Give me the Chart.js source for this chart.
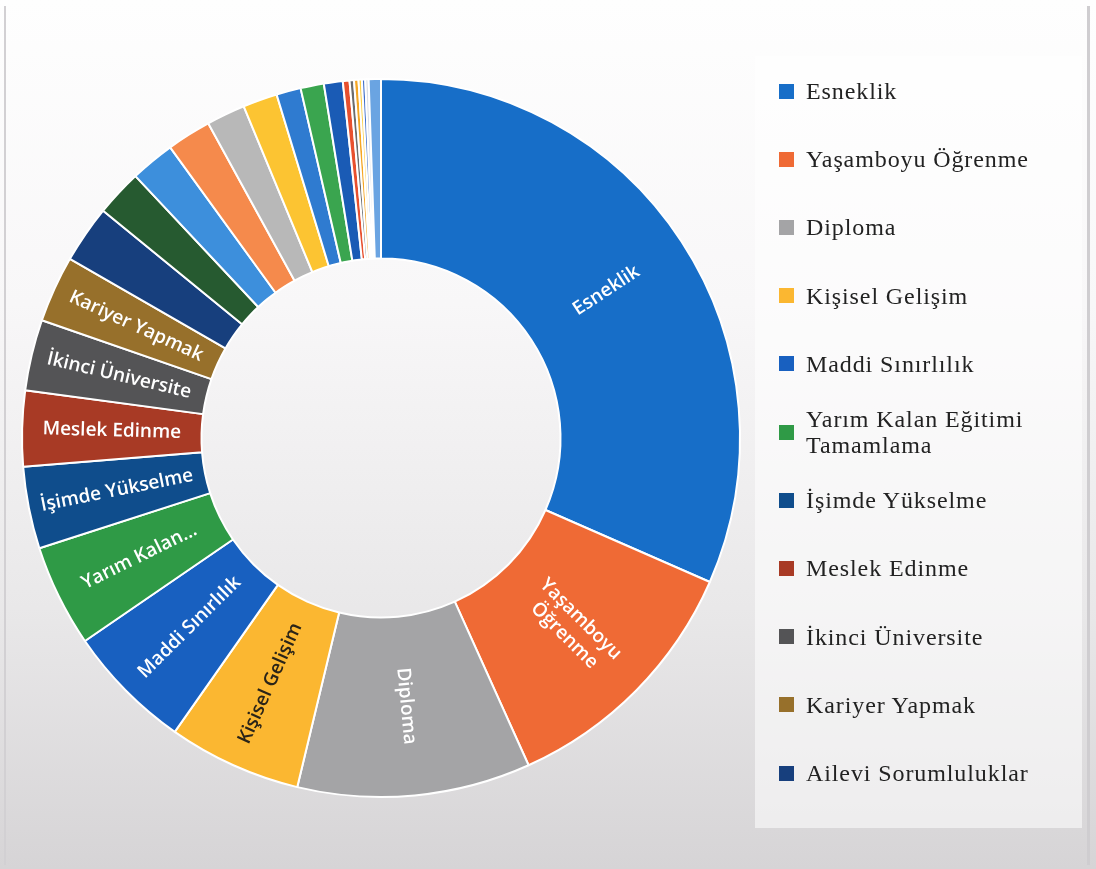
<!DOCTYPE html>
<html lang="tr">
<head>
<meta charset="utf-8">
<title>Neden Açıköğretim</title>
<script src="https://cdn.jsdelivr.net/npm/chart.js"></script>
<style>
  html, body { margin: 0; padding: 0; }
  body {
    width: 1096px; height: 869px; overflow: hidden; position: relative;
    background: linear-gradient(to bottom, #fefefe 0%, #f8f7f8 35%, #e9e8e9 70%, #d6d4d6 100%);
  }
  #frame {
    position: absolute; left: 4px; top: 6px; right: 6px; bottom: 4px;
    border-left: 2px solid #d2d0d3; border-right: 3px solid #cfcdd0;
  }
  #chartBox { position: absolute; left: 0; top: 0; }
  #legend {
    position: absolute; left: 755px; top: 56px; width: 327px; height: 772px;
    background: rgba(255, 255, 255, 0.55);
    font-family: "Liberation Serif", "DejaVu Serif", serif;
    font-size: 24px; letter-spacing: 0.9px; color: #222222;
  }
  .item { position: absolute; left: 24px; display: flex; align-items: center; transform: translateY(-50%); }
  .sw { width: 15px; height: 15px; margin-right: 12px; flex: none; }
  .txt { line-height: 26px; }
</style>
</head>
<body>
<div id="frame"></div>
<div id="chartBox"><canvas id="myChart" width="1096" height="869"></canvas></div>
<div id="legend"></div>
<script>
// categories (only the first 11 appear in the legend of the original)
const labels = [
  "Esneklik", "Yaşamboyu Öğrenme", "Diploma", "Kişisel Gelişim", "Maddi Sınırlılık",
  "Yarım Kalan Eğitimi Tamamlama", "İşimde Yükselme", "Meslek Edinme", "İkinci Üniversite",
  "Kariyer Yapmak", "Ailevi Sorumluluklar",
  "Diğer 12", "Diğer 13", "Diğer 14", "Diğer 15", "Diğer 16", "Diğer 17", "Diğer 18",
  "Diğer 19", "Diğer 20", "Diğer 21", "Diğer 22", "Diğer 23", "Diğer 24", "Diğer 25", "Diğer 26"
];

// share of answers (%)
const values = [
  31.6, 11.7, 10.5, 6.0, 5.7, 4.6, 3.7, 3.4, 3.2, 3.0, 2.6,
  2.1, 2.0, 2.0, 1.75, 1.55, 1.1, 1.05, 0.85,
  0.3, 0.2, 0.2, 0.15, 0.15, 0.15, 0.55
];

// text written inside the larger slices
const sliceText = [
  "Esneklik", "Yaşamboyu\nÖğrenme", "Diploma", "Kişisel Gelişim", "Maddi Sınırlılık",
  "Yarım Kalan...", "İşimde Yükselme", "Meslek Edinme", "İkinci Üniversite", "Kariyer Yapmak"
];

const colors = [
  "#176ec8", "#ef6a35", "#a4a4a6", "#fbb731", "#1860c0", "#2f9a46", "#0f4d8c",
  "#a83a25", "#545456", "#97702b", "#173f7d", "#265a30", "#3d8fdc", "#f58a4c",
  "#b8b8b8", "#fcc432", "#2f7bd0", "#3aa54f", "#1a5bb5", "#e8502e", "#6c6c6c",
  "#f5a623", "#fbd04a", "#3f6fc9", "#d8dde6", "#6aa4e2"
];

const legendCount = 11;

// draws the rotated category names inside the slices
const sliceLabels = {
  id: "sliceLabels",
  afterDatasetsDraw(chart) {
    const ctx = chart.ctx;
    const meta = chart.getDatasetMeta(0);
    ctx.save();
    ctx.font = "600 19px 'Open Sans', sans-serif";
    ctx.textAlign = "center";
    ctx.textBaseline = "middle";
    meta.data.forEach((arc, i) => {
      if (i >= sliceText.length) return;
      const p = arc.getProps(["x", "y", "startAngle", "endAngle", "innerRadius", "outerRadius"], true);
      const mid = (p.startAngle + p.endAngle) / 2;
      const r = (p.innerRadius + p.outerRadius) / 2;
      const x = p.x + Math.cos(mid) * r;
      const y = p.y + Math.sin(mid) * r;
      const rot = Math.cos(mid) >= 0 ? mid : mid + Math.PI;
      ctx.save();
      ctx.translate(x, y);
      ctx.rotate(rot);
      ctx.fillStyle = i === 3 ? "#2a2418" : "#ffffff";
      const lines = sliceText[i].split("\n");
      const lh = 23;
      lines.forEach((ln, k) => {
        ctx.fillText(ln, 0, (k - (lines.length - 1) / 2) * lh);
      });
      ctx.restore();
    });
    ctx.restore();
  }
};

const ctx = document.getElementById("myChart").getContext("2d");
const myChart = new Chart(ctx, {
  type: "doughnut",
  data: {
    labels: labels,
    datasets: [
      {
        data: values,
        backgroundColor: colors,
        borderColor: "#ffffff",
        borderWidth: 2,
      },
    ],
  },
  options: {
    responsive: false,
    animation: false,
    cutout: "50%",
    layout: { padding: { left: 21, top: 78, right: 355, bottom: 71 } },
    plugins: {
      legend: { display: false },
      tooltip: { enabled: false },
    },
  },
  plugins: [sliceLabels],
});

// legend on the right, built from the same arrays
const legendBox = document.getElementById("legend");
for (let i = 0; i < legendCount; i++) {
  const item = document.createElement("div");
  item.className = "item";
  item.style.top = (91 + i * 68.2 - 56) + "px";
  const sw = document.createElement("span");
  sw.className = "sw";
  sw.style.background = colors[i];
  const txt = document.createElement("span");
  txt.className = "txt";
  txt.textContent = labels[i];
  if (i === 5) {
    txt.innerHTML = "Yarım Kalan Eğitimi<br>Tamamlama";
  }
  item.appendChild(sw);
  item.appendChild(txt);
  legendBox.appendChild(item);
}
</script>
</body>
</html>
